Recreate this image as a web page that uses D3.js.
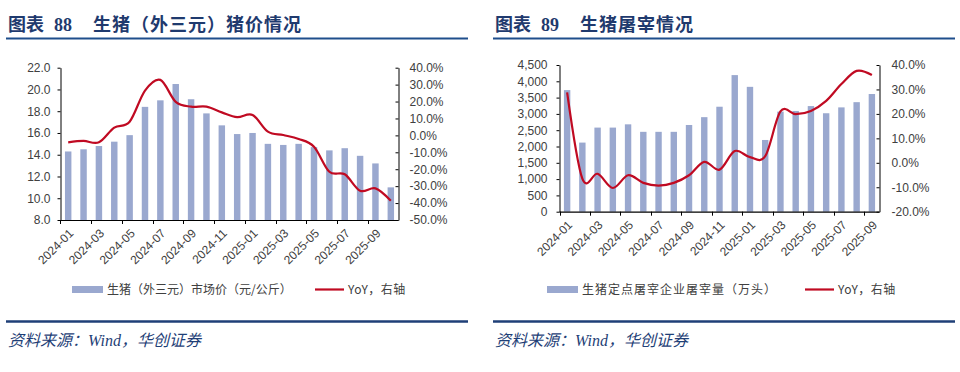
<!DOCTYPE html>
<html>
<head>
<meta charset="utf-8">
<script src="https://d3js.org/d3.v7.min.js"></script>
<style>
  body { margin: 0; background: #fff; }
  text { font-family: "Liberation Sans", Arial, "Noto Sans CJK SC", sans-serif; }
  .tick text { fill: #404040; font-size: 12px; }
  .tick line { stroke: #000; }
  .domain { stroke: #000; }
  .xlab { fill: #404040; font-size: 12px; }
  .title { fill: #1f3a6e; font-size: 18px; font-weight: bold; font-family: "Noto Sans CJK SC", sans-serif; }
  .title .num { font-family: "Liberation Serif", "Times New Roman", serif; }
  .legend { fill: #404040; font-size: 12px; font-family: "Noto Sans CJK SC", sans-serif; }
  .source { fill: #1f3f77; font-size: 16px; font-style: italic; font-family: "Liberation Serif", "Noto Sans CJK SC", serif; }
</style>
</head>
<body>
<svg width="960" height="372"></svg>
<script>
// left chart: 生猪（外三元）猪价
const priceMonths = ['2024-01','2024-02','2024-03','2024-04','2024-05','2024-06','2024-07','2024-08','2024-09','2024-10','2024-11','2024-12',
                     '2025-01','2025-02','2025-03','2025-04','2025-05','2025-06','2025-07','2025-08','2025-09','2025-10'];
const price    = [14.3, 14.5, 14.8, 15.2, 15.8, 18.4, 19.0, 20.5, 19.1, 17.8, 16.7, 15.9,
                  16.0, 15.0, 14.9, 15.0, 14.7, 14.4, 14.6, 13.9, 13.2, 11.0];
const priceYoY = [-4.1, -3.3, -4.1, 4.6, 8.1, 26.5, 32.8, 19.8, 17.0, 17.0, 13.6, 10.8,
                  12.1, 2.2, 0.2, -2.1, -6.7, -21.5, -23.0, -32.7, -31.3, -38.6];
const priceTicks = [8, 10, 12, 14, 16, 18, 20, 22];
const priceYoYTicks = [-50, -40, -30, -20, -10, 0, 10, 20, 30, 40];

// right chart: 生猪屠宰
const slaughterMonths = ['2024-01','2024-02','2024-03','2024-04','2024-05','2024-06','2024-07','2024-08','2024-09','2024-10','2024-11','2024-12',
                         '2025-01','2025-02','2025-03','2025-04','2025-05','2025-06','2025-07','2025-08','2025-09'];
const slaughter    = [3730, 2120, 2580, 2580, 2680, 2450, 2450, 2450, 2660, 2900, 3220, 4190,
                      3830, 2200, 3070, 3090, 3240, 3020, 3200, 3360, 3610];
const slaughterYoY = [28.8, -6.5, -4.5, -10.3, -5.1, -8.2, -9.3, -8.2, -5.1, 0.4, -2.8, 4.8,
                      2.3, 2.7, 21.0, 19.9, 21.2, 25.3, 32.2, 37.6, 35.9];
const slaughterTicks = [0, 500, 1000, 1500, 2000, 2500, 3000, 3500, 4000, 4500];
const slaughterYoYTicks = [-20, -10, 0, 10, 20, 30, 40];

const barColor = '#9aa8cf';
const lineColor = '#c00a22';
const svg = d3.select('svg');

function drawPanel(p) {
  const g = svg.append('g');

  // header
  const t = g.append('text').attr('class', 'title').attr('y', 31);
  t.append('tspan').attr('x', p.x0 + 2).text('图表');
  t.append('tspan').attr('x', p.x0 + 48).attr('class', 'num').text(p.num);
  t.append('tspan').attr('x', p.x0 + 87).style('letter-spacing', '1px').text(p.title);
  g.append('line')
    .attr('x1', p.x0).attr('x2', p.x0 + 462).attr('y1', 38.5).attr('y2', 38.5)
    .attr('stroke', '#1f4e8c').attr('stroke-width', 2);

  // footer
  g.append('line')
    .attr('x1', p.x0).attr('x2', p.x0 + 462).attr('y1', 321.5).attr('y2', 321.5)
    .attr('stroke', '#1f3f77').attr('stroke-width', 2.5);
  g.append('text').attr('class', 'source').attr('x', p.x0 + 2).attr('y', 346)
    .text('资料来源：Wind，华创证券');

  const x = d3.scaleBand().domain(p.cats).range([p.left, p.right])
    .paddingInner(0.58).paddingOuter(0.29);
  const yL = d3.scaleLinear().domain(d3.extent(p.leftTicks)).range([p.bottom, p.top]);
  const yR = d3.scaleLinear().domain(d3.extent(p.rightTicks)).range([p.bottom, p.top]);

  // bars
  g.selectAll('rect.bar').data(p.bars).enter().append('rect')
    .attr('class', 'bar')
    .attr('x', (d, i) => x(p.cats[i]))
    .attr('y', d => yL(d))
    .attr('width', x.bandwidth())
    .attr('height', d => yL(p.leftTicks[0]) - yL(d))
    .attr('fill', barColor);

  // axes
  g.append('g').attr('transform', `translate(${p.left},0)`)
    .call(d3.axisLeft(yL).tickValues(p.leftTicks).tickSize(3).tickSizeOuter(0).tickPadding(p.padL).tickFormat(p.fmtL));
  g.append('g').attr('transform', `translate(${p.right},0)`)
    .call(d3.axisRight(yR).tickValues(p.rightTicks).tickSize(-3).tickSizeOuter(0).tickPadding(p.padR).tickFormat(d => d.toFixed(1) + '%'));

  g.append('line')
    .attr('x1', p.left).attr('x2', p.right).attr('y1', p.bottom + 0.5).attr('y2', p.bottom + 0.5)
    .attr('stroke', '#000').attr('stroke-width', 1.2);
  const gap = x.step() - x.bandwidth();
  const every2 = p.cats.filter((c, i) => i % 2 === 0);
  g.selectAll('line.xt').data(every2).enter().append('line')
    .attr('x1', c => Math.round(x(c) - gap / 2) + 0.5)
    .attr('x2', c => Math.round(x(c) - gap / 2) + 0.5)
    .attr('y1', p.bottom).attr('y2', p.bottom + 4)
    .attr('stroke', '#000');
  g.selectAll('text.xlab').data(every2).enter().append('text')
    .attr('class', 'xlab')
    .attr('text-anchor', 'end')
    .attr('dy', '0.35em')
    .attr('transform', c => `translate(${x(c) + x.bandwidth() / 2 + 3},${p.bottom + 11}) rotate(-45)`)
    .text(c => c);

  // yoy line
  const line = d3.line()
    .x((d, i) => x(p.cats[i]) + x.bandwidth() / 2)
    .y(d => yR(d))
    .curve(d3.curveCardinal.tension(0));
  g.append('path').datum(p.yoy)
    .attr('d', line)
    .attr('fill', 'none')
    .attr('stroke', lineColor)
    .attr('stroke-width', 2.2);

  // legend
  const ly = 289.5;
  g.append('rect').attr('x', p.leg[0]).attr('y', ly - 3.5).attr('width', 31).attr('height', 7).attr('fill', barColor);
  g.append('text').attr('class', 'legend').attr('x', p.leg[0] + 35).attr('y', ly).attr('dy', '0.36em')
    .style('letter-spacing', p.legSpacing).text(p.barName);
  g.append('line').attr('x1', p.leg[1]).attr('x2', p.leg[1] + 29).attr('y1', ly).attr('y2', ly)
    .attr('stroke', lineColor).attr('stroke-width', 2.2);
  g.append('text').attr('class', 'legend').attr('x', p.leg[1] + 33).attr('y', ly).attr('dy', '0.36em')
    .style('letter-spacing', '0.5px').text('YoY，右轴');
}

drawPanel({
  x0: 6, num: '88', title: '生猪（外三元）猪价情况',
  cats: priceMonths, bars: price, yoy: priceYoY,
  leftTicks: priceTicks, rightTicks: priceYoYTicks,
  fmtL: d3.format('.1f'), padL: 7, padR: 11,
  left: 60.5, right: 398.5, top: 67.7, bottom: 220,
  leg: [72, 315], legSpacing: '0px',
  barName: '生猪（外三元）市场价（元/公斤）'
});

drawPanel({
  x0: 493, num: '89', title: '生猪屠宰情况',
  cats: slaughterMonths, bars: slaughter, yoy: slaughterYoY,
  leftTicks: slaughterTicks, rightTicks: slaughterYoYTicks,
  fmtL: d3.format(','), padL: 9, padR: 12,
  left: 559.5, right: 879.5, top: 65, bottom: 211.7,
  leg: [547, 805], legSpacing: '1px',
  barName: '生猪定点屠宰企业屠宰量（万头）'
});
</script>
</body>
</html>
